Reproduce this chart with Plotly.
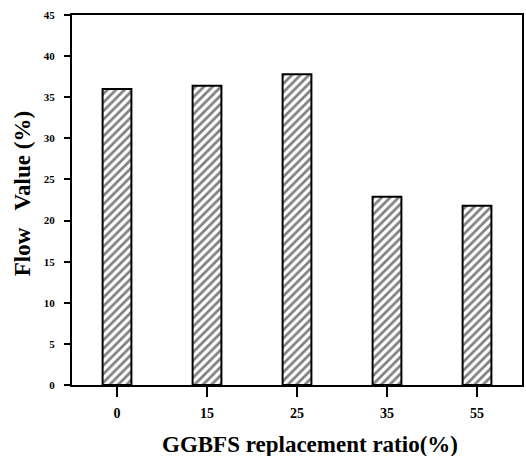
import plotly.graph_objects as go

categories = ["0", "15", "25", "35", "55"]
flow_values = [36.0, 36.4, 37.8, 22.9, 21.8]
y_ticks = [0, 5, 10, 15, 20, 25, 30, 35, 40, 45]

FONT = "Liberation Serif"

fig = go.Figure()
fig.add_trace(go.Bar(
    x=categories,
    y=flow_values,
    width=0.32,
    marker=dict(
        color="white",
        line=dict(color="black", width=2),
        pattern=dict(shape="/", fgcolor="black", bgcolor="white", size=6, solidity=0.45),
    ),
))

fig.update_layout(
    width=526, height=456,
    margin=dict(l=72, r=2, t=15, b=71),
    paper_bgcolor="white", plot_bgcolor="white",
    showlegend=False,
    font=dict(family=FONT, color="black"),
    xaxis=dict(
        type="category", range=[-0.5, 4.5],
        showline=True, linecolor="black", linewidth=2, mirror=True,
        ticks="outside", ticklen=10, tickwidth=2, tickcolor="black",
        tickfont=dict(family=FONT, size=14, color="black", weight="bold"),
        ticklabelstandoff=4,
        showgrid=False, zeroline=False,
    ),
    yaxis=dict(
        range=[0, 45], tickvals=y_ticks,
        showline=True, linecolor="black", linewidth=2, mirror=True,
        ticks="outside", ticklen=6, tickwidth=2, tickcolor="black",
        tickfont=dict(family=FONT, size=11, color="black", weight="bold"),
        ticklabelstandoff=7,
        showgrid=False, zeroline=False,
    ),
    annotations=[
        dict(text="GGBFS replacement ratio(%)", xref="paper", yref="paper",
             x=(311 - 72) / 452, y=-(444 - 385) / 370, xanchor="center", yanchor="middle",
             showarrow=False, font=dict(family=FONT, size=23, color="black", weight="bold")),
        dict(text="Flow\u00a0\u00a0\u00a0Value\u00a0(%)", xref="paper", yref="paper",
             x=-(72 - 22) / 452, y=(385 - 194) / 370, xanchor="center", yanchor="middle",
             textangle=-90, showarrow=False,
             font=dict(family=FONT, size=23, color="black", weight="bold")),
    ],
)

fig.write_html("out.html", config={"displayModeBar": False},
               post_script="document.body.style.margin='0';")
